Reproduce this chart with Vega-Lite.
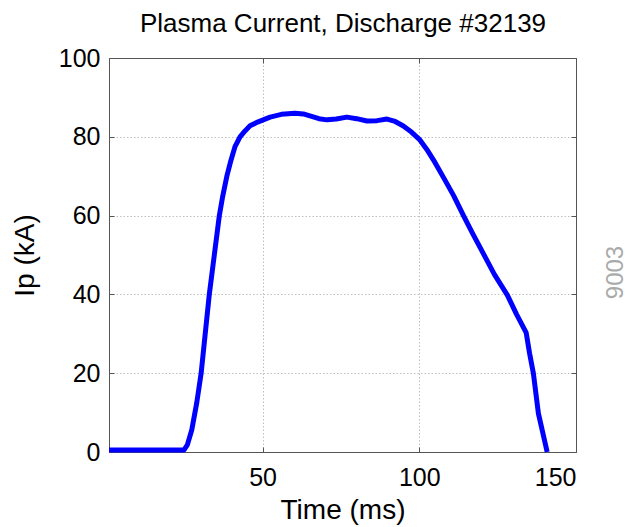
{
  "$schema": "https://vega.github.io/schema/vega-lite/v6.json",
  "width": 467,
  "height": 394,
  "autosize": {"type": "none"},
  "padding": {"left": 109, "top": 58, "right": 53, "bottom": 75},
  "background": "white",
  "config": {
    "view": {"stroke": null},
    "axis": {
      "labelFont": "Liberation Sans",
      "labelFontSize": 25,
      "labelColor": "black",
      "titleFont": "Liberation Sans",
      "titleFontSize": 28,
      "titleFontWeight": "normal",
      "titleColor": "black",
      "domainColor": "#555555",
      "domainWidth": 1,
      "tickColor": "#555555",
      "tickSize": -5,
      "tickWidth": 1,
      "gridColor": "#c0c0c0",
      "gridDash": [1.5, 2],
      "gridWidth": 1
    }
  },
  "data": {
    "values": [
      {"t": 1, "ip": 0.5}, {"t": 10, "ip": 0.5}, {"t": 20, "ip": 0.5}, {"t": 24.9, "ip": 0.5},
      {"t": 26, "ip": 1.8}, {"t": 27.4, "ip": 5.6}, {"t": 29, "ip": 12.5}, {"t": 30.4, "ip": 20},
      {"t": 31.7, "ip": 30}, {"t": 33.0, "ip": 40}, {"t": 34.6, "ip": 50}, {"t": 36.2, "ip": 60},
      {"t": 37.3, "ip": 65}, {"t": 38.6, "ip": 70}, {"t": 39.9, "ip": 74}, {"t": 41.2, "ip": 77.5},
      {"t": 42.8, "ip": 80}, {"t": 44.4, "ip": 81.5}, {"t": 46.0, "ip": 82.8}, {"t": 48.6, "ip": 83.8},
      {"t": 52.4, "ip": 85.0}, {"t": 56, "ip": 85.7}, {"t": 60.3, "ip": 86.0}, {"t": 63, "ip": 85.8},
      {"t": 65.1, "ip": 85.3}, {"t": 68, "ip": 84.6}, {"t": 70.6, "ip": 84.3}, {"t": 73.5, "ip": 84.5},
      {"t": 76.9, "ip": 85.0}, {"t": 80, "ip": 84.6}, {"t": 83.3, "ip": 84.0}, {"t": 86.5, "ip": 84.1},
      {"t": 89.7, "ip": 84.5}, {"t": 92, "ip": 84.0}, {"t": 94.8, "ip": 82.8}, {"t": 97.5, "ip": 81.2},
      {"t": 100.2, "ip": 79.2}, {"t": 102.4, "ip": 76.8}, {"t": 105, "ip": 73.5}, {"t": 108.2, "ip": 69.0},
      {"t": 111, "ip": 65}, {"t": 114.1, "ip": 60}, {"t": 117, "ip": 55.5}, {"t": 120.4, "ip": 50.4},
      {"t": 124, "ip": 45}, {"t": 128.1, "ip": 39.8}, {"t": 131, "ip": 35}, {"t": 134.1, "ip": 30.3},
      {"t": 135.2, "ip": 25}, {"t": 136.4, "ip": 20}, {"t": 138.0, "ip": 9.8}, {"t": 140.8, "ip": 0}
    ]
  },
  "layer": [
    {
      "mark": {"type": "line", "stroke": "#0000ff", "strokeWidth": 5, "strokeJoin": "round", "strokeCap": "butt"},
      "encoding": {
        "x": {
          "field": "t", "type": "quantitative",
          "scale": {"domain": [1, 150], "nice": false, "zero": false},
          "axis": {"orient": "bottom", "values": [50, 100, 150], "grid": true, "title": "Time (ms)", "labelPadding": 18, "titlePadding": 6}
        },
        "y": {
          "field": "ip", "type": "quantitative",
          "scale": {"domain": [0, 100], "nice": false},
          "axis": {"orient": "left", "values": [0, 20, 40, 60, 80, 100], "grid": true, "title": "Ip (kA)", "labelPadding": 14, "titlePadding": 19}
        }
      }
    },
    {
      "mark": {"type": "line", "opacity": 0},
      "encoding": {
        "x": {
          "field": "t", "type": "quantitative",
          "scale": {"domain": [1, 150], "nice": false, "zero": false},
          "axis": {"orient": "top", "values": [50, 100, 150], "labels": false, "grid": false,
                   "title": "Plasma Current, Discharge #32139", "titleFontSize": 26,
                   "titleBaseline": "alphabetic", "titlePadding": 26}
        },
        "y": {
          "field": "ip", "type": "quantitative",
          "scale": {"domain": [0, 100], "nice": false},
          "axis": {"orient": "right", "values": [0, 20, 40, 60, 80, 100], "labels": false, "grid": false,
                   "title": "9003", "titleColor": "#aaaaaa", "titleFontSize": 24, "titleAngle": 270,
                   "titleAlign": "center", "titleBaseline": "middle", "titleX": 39, "titleY": 214}
        }
      }
    }
  ],
  "resolve": {"axis": {"x": "independent", "y": "independent"}}
}
